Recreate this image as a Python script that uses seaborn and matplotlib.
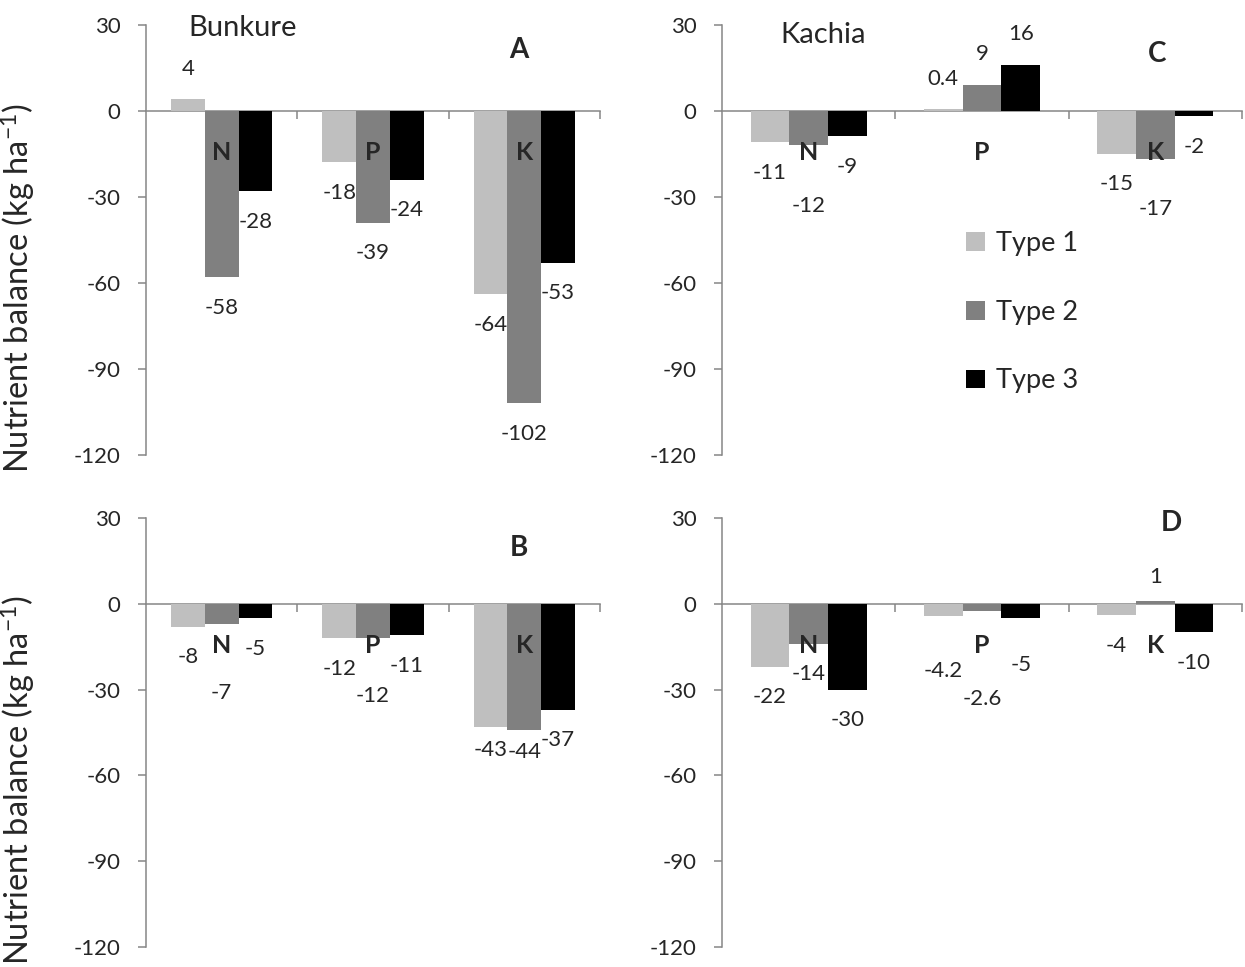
import matplotlib
matplotlib.use("Agg")
import matplotlib.pyplot as plt
from matplotlib.patches import Patch
import pandas as pd
import seaborn as sns

# nutrient balance values (kg/ha)
nutrients = ["N", "P", "K"]
types = ["Type 1", "Type 2", "Type 3"]
colors = ["#BFBFBF", "#808080", "#000000"]

a_type1 = [4, -18, -64]
a_type2 = [-58, -39, -102]
a_type3 = [-28, -24, -53]

b_type1 = [-8, -12, -43]
b_type2 = [-7, -12, -44]
b_type3 = [-5, -11, -37]

c_type1 = [-11, 0.4, -15]
c_type2 = [-12, 9, -17]
c_type3 = [-9, 16, -2]

d_type1 = [-22, -4.2, -4]
d_type2 = [-14, -2.6, 1]
d_type3 = [-30, -5, -10]

yticks = [-120, -90, -60, -30, 0, 30]

# distance (points) of a data label from the bar end, where it differs from default
LABEL_GAP = 22
label_gap = {
    ("B", "Type 2", "N"): 50, ("B", "Type 2", "P"): 42,
    ("B", "Type 1", "K"): 17, ("B", "Type 2", "K"): 16,
    ("C", "Type 2", "N"): 44, ("C", "Type 2", "K"): 36,
    ("D", "Type 1", "P"): 40, ("D", "Type 2", "P"): 63,
    ("D", "Type 3", "P"): 34, ("D", "Type 2", "K"): 17,
}

AXIS_GREY = "#868686"


def make_frame(t1, t2, t3):
    rows = []
    for tname, vals in zip(types, [t1, t2, t3]):
        for nut, v in zip(nutrients, vals):
            rows.append({"nutrient": nut, "type": tname, "value": v})
    return pd.DataFrame(rows)


def draw_panel(ax, panel, df):
    sns.barplot(data=df, x="nutrient", y="value", hue="type",
                order=nutrients, hue_order=types, palette=colors,
                width=0.67, saturation=1, linewidth=0, errorbar=None,
                legend=False, ax=ax)
    ax.set_axisbelow(False)
    ax.set_xlabel("")
    ax.set_ylabel("")

    # spines first: moving the bottom spine resets the ticks
    for side in ["top", "right"]:
        ax.spines[side].set_visible(False)
    ax.spines["bottom"].set_position(("data", 0))
    for side in ["left", "bottom"]:
        ax.spines[side].set_color(AXIS_GREY)
        ax.spines[side].set_linewidth(1.1)
        ax.spines[side].set_zorder(0.5)

    ax.set_ylim(-120, 30)
    ax.set_xlim(-0.5, 2.5)
    ax.set_yticks(yticks)
    ax.set_yticklabels([str(t) for t in yticks])
    ax.set_xticks([0, 1, 2])
    ax.set_xticks([0.5, 1.5, 2.5], minor=True)
    ax.tick_params(which="both", left=True, bottom=True)
    ax.tick_params(axis="y", length=5.5, width=1.1, color=AXIS_GREY,
                   labelsize=16, pad=13)
    ax.tick_params(axis="x", which="major", length=0, pad=22, labelsize=18)
    ax.tick_params(axis="x", which="minor", length=5.5, width=1.1,
                   color=AXIS_GREY, direction="out")
    ax.set_xticklabels(nutrients, fontweight="bold", fontsize=18)

    # data labels at the bar ends
    for tname, cont in zip(types, ax.containers):
        for nut, bar in zip(nutrients, cont.patches):
            v = bar.get_height()
            x = bar.get_x() + bar.get_width() / 2
            gap = label_gap.get((panel, tname, nut), LABEL_GAP)
            dy = gap if v > 0 else -gap
            ax.annotate(f"{v:g}", (x, v), xytext=(0, dy),
                        textcoords="offset points", ha="center",
                        va="center", fontsize=16)


sns.set_theme(style="white")
plt.rcParams["font.family"] = ["Lato", "DejaVu Sans"]
plt.rcParams["axes.unicode_minus"] = False
plt.rcParams["mathtext.default"] = "regular"

fig = plt.figure(figsize=(12.45, 9.67), dpi=100)
ax_a = fig.add_axes([0.1173, 0.5295, 0.3646, 0.4451])
ax_c = fig.add_axes([0.5799, 0.5295, 0.4177, 0.4451])
ax_b = fig.add_axes([0.1173, 0.0207, 0.3646, 0.4436])
ax_d = fig.add_axes([0.5799, 0.0207, 0.4177, 0.4436])

draw_panel(ax_a, "A", make_frame(a_type1, a_type2, a_type3))
draw_panel(ax_b, "B", make_frame(b_type1, b_type2, b_type3))
draw_panel(ax_c, "C", make_frame(c_type1, c_type2, c_type3))
draw_panel(ax_d, "D", make_frame(d_type1, d_type2, d_type3))

ax_a.text(0.0925, 0.993, "Bunkure", transform=ax_a.transAxes,
          fontsize=21, va="center", ha="left")
ax_c.text(0.1115, 0.976, "Kachia", transform=ax_c.transAxes,
          fontsize=21, va="center", ha="left")

for ax, letter, x, y in [(ax_a, "A", 0.8216, 0.941), (ax_b, "B", 0.8216, 0.930),
                         (ax_c, "C", 0.8365, 0.932), (ax_d, "D", 0.865, 0.988)]:
    ax.text(x, y, letter, transform=ax.transAxes, fontsize=20,
            fontweight="bold", ha="center", va="center")

handles = [Patch(facecolor=c, edgecolor="none") for c in colors]
ax_c.legend(handles, types, loc="upper left", bbox_to_anchor=(0.47, 0.521),
            frameon=False, fontsize=19.5, handlelength=0.7, handleheight=0.7,
            handletextpad=0.4, labelspacing=1.62, borderpad=0,
            borderaxespad=0)

ylab = "Nutrient balance (kg ha$^{-1}$)"
fig.text(0.0145, 0.702, ylab, rotation=90, ha="center", va="center",
         fontsize=23.5)
fig.text(0.0145, 0.193, ylab, rotation=90, ha="center", va="center",
         fontsize=23.5)

fig.savefig("out.png", dpi=100)
